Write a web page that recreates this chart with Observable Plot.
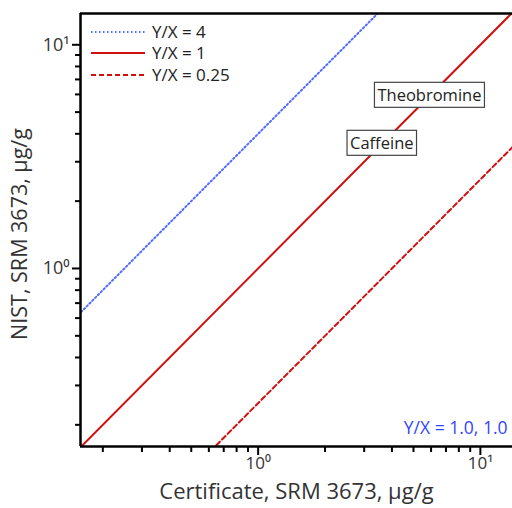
<!DOCTYPE html>
<html>
<head>
<meta charset="utf-8">
<script src="https://cdn.jsdelivr.net/npm/d3@7"></script>
<script src="https://cdn.jsdelivr.net/npm/@observablehq/plot@0.6"></script>
<style>
  html, body { margin: 0; padding: 0; background: #fff; }
  #wrap { position: relative; width: 512px; height: 508px; font-family: "Open Sans", sans-serif; }
  #legend { position: absolute; left: 90px; top: 21px; font-size: 17px; color: #222; }
  #legend div { display: flex; align-items: center; height: 21.5px; }
  #legend span { line-height: 18px; }
  #legend svg { margin-right: 6px; }
</style>
</head>
<body>
<div id="wrap">
  <div id="chart"></div>
  <div id="legend"></div>
</div>
<script>
// ---- data ----
const ratioNames = ["Y/X = 4", "Y/X = 1", "Y/X = 0.25"];
const ratioValues = [4, 1, 0.25];
const ratioColors = ["#4f6bff", "#d01010", "#d01010"];
const ratioDash = ["1.5,2.5", null, "5,3"];
const lineXEnds = [0.1, 20];
const labelNames = ["Theobromine", "Caffeine"];
const labelValues = [5.9, 3.6];
const majorTicks = [1, 10];
const majorTickLabels = ["10\u2070", "10\u00B9"];
const minorTicks = [0.2, 0.3, 0.4, 0.5, 0.6, 0.7, 0.8, 0.9, 2, 3, 4, 5, 6, 7, 8, 9];
const xDomain = [0.1587, 13.95];
const yDomain = [0.16, 13.8];

// build tables
const lineRows = [];
ratioNames.forEach((n, i) => {
  lineXEnds.forEach(x => lineRows.push({series: n, x, y: x * ratioValues[i], idx: i}));
});
const labels = labelNames.map((n, i) => ({name: n, v: labelValues[i]}));
const fmt = d => majorTickLabels[majorTicks.indexOf(d)];

const lineMarks = ratioNames.map((n, i) =>
  Plot.line(lineRows.filter(r => r.idx === i), {
    x: "x", y: "y", stroke: ratioColors[i], strokeWidth: 2,
    strokeDasharray: ratioDash[i], clip: true
  })
);

const chart = Plot.plot({
  width: 512,
  height: 508,
  marginLeft: 80,
  marginTop: 13,
  marginRight: 0,
  marginBottom: 62,
  style: {fontFamily: "Open Sans, sans-serif", background: "#fff", color: "#333"},
  x: {type: "log", domain: xDomain},
  y: {type: "log", domain: yDomain},
  marks: [
    ...lineMarks,
    Plot.axisX(minorTicks, {tickSize: 6, tickFormat: () => "", strokeWidth: 2, stroke: "#000"}),
    Plot.axisX(majorTicks, {tickSize: 9, tickFormat: fmt, fontSize: 17, tickPadding: 1, strokeWidth: 2, stroke: "#000", fill: "#333", label: null}),
    Plot.axisY(minorTicks, {tickSize: 5, tickFormat: () => "", strokeWidth: 2, stroke: "#000"}),
    Plot.axisY(majorTicks, {tickSize: 8, tickFormat: fmt, fontSize: 18, tickPadding: 3, strokeWidth: 2, stroke: "#000", fill: "#333", label: null}),
    Plot.ruleX([xDomain[0]], {stroke: "#000", strokeWidth: 2.5}),
    Plot.ruleY([yDomain[0]], {stroke: "#000", strokeWidth: 2.5}),
    Plot.ruleY([yDomain[1]], {stroke: "#000", strokeWidth: 2.5}),
    Plot.text(labels, {x: "v", y: "v", text: "name", fontSize: 16.5, fill: "#222"}),
    Plot.text(["Y/X = 1.0, 1.0"], {frameAnchor: "bottom-right", dx: -5, dy: -13, fill: "#3344ff", fontSize: 17.5, textAnchor: "end"}),
    Plot.text(["Certificate, SRM 3673, \u00B5g/g"], {frameAnchor: "bottom", dy: 52, fontSize: 22, fill: "#333"}),
    Plot.text(["NIST, SRM 3673, \u00B5g/g"], {frameAnchor: "left", textAnchor: "middle", dx: -60, dy: 4, rotate: -90, fontSize: 21.5, fill: "#333"})
  ]
});
document.getElementById("chart").appendChild(chart);

// boxes behind annotation labels
chart.querySelectorAll("text").forEach(t => {
  if (!labelNames.includes(t.textContent)) return;
  const b = t.getBBox();
  const r = document.createElementNS("http://www.w3.org/2000/svg", "rect");
  r.setAttribute("x", b.x - 3);
  r.setAttribute("y", b.y - 1);
  r.setAttribute("width", b.width + 6);
  r.setAttribute("height", b.height + 2);
  r.setAttribute("fill", "#fff");
  r.setAttribute("stroke", "#444");
  r.setAttribute("stroke-width", 1.2);
  const tr = t.getAttribute("transform");
  if (tr) r.setAttribute("transform", tr);
  t.parentNode.insertBefore(r, t);
});

// legend
const legend = document.getElementById("legend");
ratioNames.forEach((n, i) => {
  const row = document.createElement("div");
  row.innerHTML = `<svg width="56" height="6"><line x1="1" y1="3" x2="55" y2="3" stroke="${ratioColors[i]}" stroke-width="2" ${ratioDash[i] ? `stroke-dasharray="${ratioDash[i]}"` : ""}/></svg><span>${n}</span>`;
  legend.appendChild(row);
});
</script>
</body>
</html>
